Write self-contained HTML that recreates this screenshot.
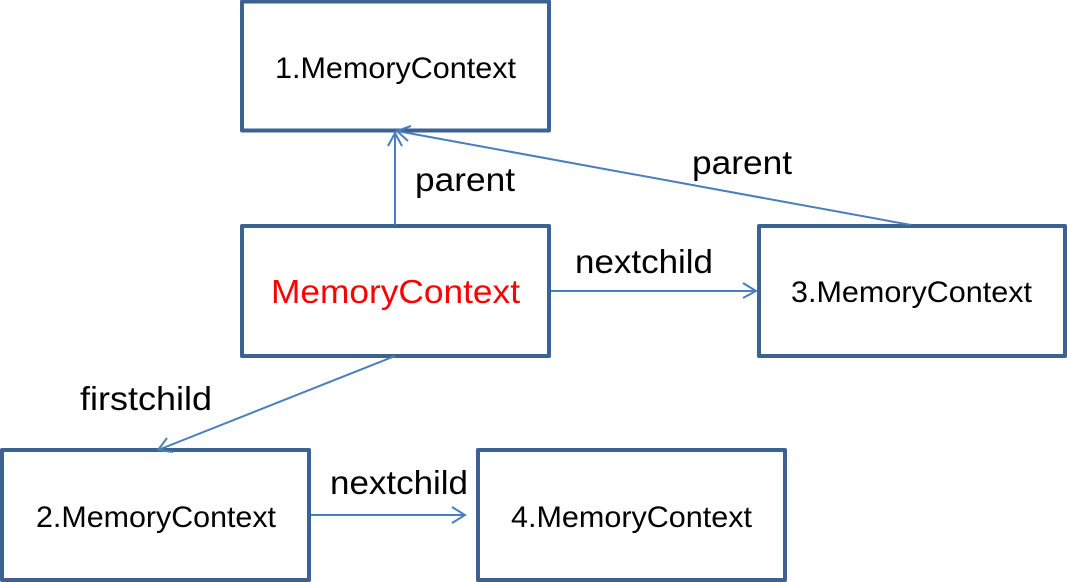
<!DOCTYPE html>
<html>
<head>
<meta charset="utf-8">
<style>
html,body{margin:0;padding:0;background:#fff;width:1067px;height:582px;overflow:hidden}
svg{display:block}
text{font-family:"Liberation Sans",sans-serif;font-size:30px;fill:#000}
.t{font-size:33px}
.b{fill:#fff;stroke:#3d6190;stroke-width:4;stroke-linejoin:round}
.l{fill:none;stroke:#4a7ebb;stroke-width:2}
</style>
</head>
<body>
<svg width="1067" height="582" viewBox="0 0 1067 582" xmlns="http://www.w3.org/2000/svg">
<rect class="b" x="242" y="1.5" width="307" height="129"/>
<rect class="b" x="242" y="226" width="307" height="130"/>
<rect class="b" x="759" y="226" width="306" height="130"/>
<rect class="b" x="2" y="450" width="307" height="130"/>
<rect class="b" x="478" y="450" width="307" height="130"/>

<path class="l" d="M395 225V133M388 146L395 133L402 146"/>
<path class="l" d="M911 225L397 131M411 126L397 131L408 141"/>
<path class="l" d="M395 356L158 450M167 438L158 450L173 452"/>
<path class="l" d="M551 291H756M743 283L756 291L743 298"/>
<path class="l" d="M311 515H465M452 507L465 515L452 523"/>

<text x="275" y="78" textLength="241" lengthAdjust="spacingAndGlyphs">1.MemoryContext</text>
<text x="271" y="303" textLength="249" lengthAdjust="spacingAndGlyphs" style="fill:#ff0000;font-size:33px">MemoryContext</text>
<text x="791" y="302" textLength="241" lengthAdjust="spacingAndGlyphs">3.MemoryContext</text>
<text x="36" y="527" textLength="240" lengthAdjust="spacingAndGlyphs">2.MemoryContext</text>
<text x="511" y="527" textLength="241" lengthAdjust="spacingAndGlyphs">4.MemoryContext</text>

<text class="t" x="415" y="191" textLength="100" lengthAdjust="spacingAndGlyphs">parent</text>
<text class="t" x="692" y="174" textLength="100" lengthAdjust="spacingAndGlyphs">parent</text>
<text class="t" x="575" y="273" textLength="138" lengthAdjust="spacingAndGlyphs">nextchild</text>
<text class="t" x="330" y="494" textLength="138" lengthAdjust="spacingAndGlyphs">nextchild</text>
<text class="t" x="80" y="410" textLength="132" lengthAdjust="spacingAndGlyphs">firstchild</text>
</svg>
</body>
</html>
